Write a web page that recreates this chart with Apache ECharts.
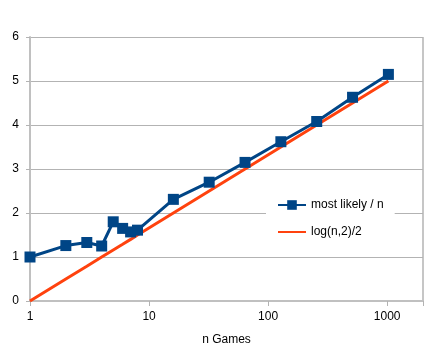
<!DOCTYPE html>
<html><head><meta charset="utf-8">
<script src="https://cdn.jsdelivr.net/npm/echarts@6/dist/echarts.min.js"></script>
<style>html,body{margin:0;padding:0;background:#fff}#c{width:443px;height:355px}</style>
</head><body><div id="c"></div>
<script>
var nGames = [1, 2, 3, 4, 5, 6, 7, 8, 16, 32, 64, 128, 256, 512, 1024];
var mostLikely = [1.0, 1.26, 1.33, 1.25, 1.80, 1.65, 1.57, 1.61, 2.31, 2.70, 3.15, 3.62, 4.08, 4.63, 5.15];
var logHalf = [0, 0.5, 0.79, 1.0, 1.16, 1.29, 1.40, 1.5, 2.0, 2.5, 3.0, 3.5, 4.0, 4.5, 5.0];
var seriesNames = ['most likely / n', 'log(n,2)/2'];
var xTitle = 'n Games';
var xTickLabels = [1, 10, 100, 1000];

var font = 'Liberation Sans, Arial, sans-serif';
function pairs(xs, ys){ return xs.map(function(x,i){ return [x, ys[i]]; }); }

var chart = echarts.init(document.getElementById('c'));
chart.setOption({
  animation: false,
  grid: {left: 30, top: 37, right: 20, bottom: 54, containLabel: false},
  xAxis: {
    type: 'log', logBase: 10, min: 1, max: 2000,
    name: xTitle, nameLocation: 'middle', nameGap: 33,
    nameTextStyle: {color: '#000', fontSize: 12, fontFamily: font},
    axisLine: {show: true, lineStyle: {color: '#c0c0c0', width: 2}},
    axisTick: {show: true, length: 5, lineStyle: {color: '#b3b3b3'}},
    minorTick: {show: false},
    axisLabel: {color: '#000', fontSize: 12, fontFamily: font, margin: 10,
      formatter: function(v){ return xTickLabels.indexOf(Math.round(v)) >= 0 ? String(Math.round(v)) : ''; }},
    splitLine: {show: false}
  },
  yAxis: {
    type: 'value', min: 0, max: 6, interval: 1,
    axisLine: {show: true, lineStyle: {color: '#c0c0c0', width: 2}},
    axisTick: {show: true, length: 4, lineStyle: {color: '#b3b3b3'}},
    axisLabel: {color: '#000', fontSize: 12, fontFamily: font, margin: 11},
    splitLine: {show: true, lineStyle: {color: '#b3b3b3', width: 1}}
  },
  legend: {
    orient: 'vertical', left: 266, top: 191,
    padding: [8, 11, 8, 11],
    backgroundColor: '#fff',
    itemWidth: 28, itemHeight: 12, itemGap: 15,
    lineStyle: {width: 2},
    textStyle: {color: '#000', fontSize: 12, fontFamily: font},
    data: [{name: seriesNames[0]},
           {name: seriesNames[1], itemStyle: {color: 'rgba(0,0,0,0)', borderWidth: 0, opacity: 0}}]
  },
  graphic: [{
    type: 'rect', shape: {x: 423, y: 37, width: 0, height: 264},
    style: {stroke: '#b3b3b3', lineWidth: 1, fill: null}, silent: true
  }],
  series: [
    {
      name: seriesNames[0], type: 'line', data: pairs(nGames, mostLikely),
      symbol: 'rect', symbolSize: 11, showAllSymbol: true,
      itemStyle: {color: '#004586'},
      lineStyle: {color: '#004586', width: 3},
      z: 3
    },
    {
      name: seriesNames[1], type: 'line', data: pairs(nGames, logHalf),
      symbol: 'none',
      itemStyle: {color: '#ff420e'},
      lineStyle: {color: '#ff420e', width: 3},
      z: 2
    }
  ]
});
</script></body></html>
